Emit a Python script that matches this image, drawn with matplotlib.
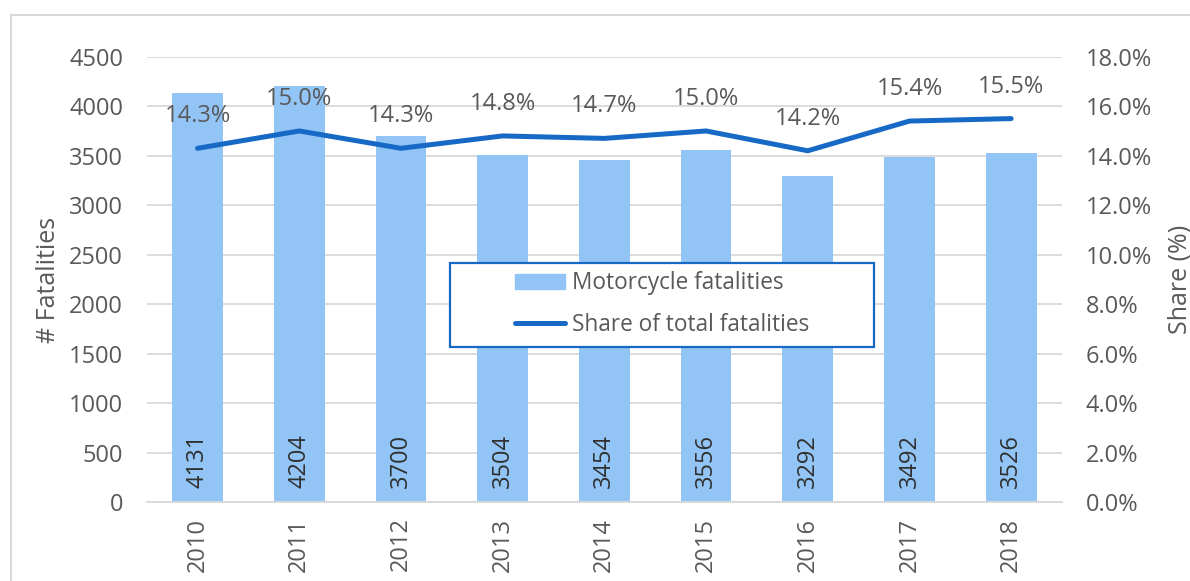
import matplotlib
matplotlib.use("Agg")
import matplotlib.pyplot as plt
from matplotlib.patches import Rectangle
from matplotlib.lines import Line2D
import numpy as np

plt.rcParams['font.family'] = ['Open Sans', 'DejaVu Sans']

years = ['2010', '2011', '2012', '2013', '2014', '2015', '2016', '2017', '2018']
fatalities = [4131, 4204, 3700, 3504, 3454, 3556, 3292, 3492, 3526]
share = [14.3, 15.0, 14.3, 14.8, 14.7, 15.0, 14.2, 15.4, 15.5]

bar_color = '#92C5F5'
line_color = '#1769C6'
text_color = '#595959'
grid_color = '#D9D9D9'
FS = 17

W, H = 1190, 581
fig = plt.figure(figsize=(W / 100, H / 100), dpi=100)
fig.patch.set_facecolor('white')

# outer chart border (left & top visible)
fig.add_artist(Rectangle((11 / W, -0.1), 1.2, (H - 15) / H + 0.1, transform=fig.transFigure,
                         fill=False, edgecolor='#D9D9D9', linewidth=1.5))

ax = fig.add_axes([146.7 / W, (H - 502.3) / H, (1062 - 146.7) / W, (502.3 - 56.7) / H])
ax2 = ax.twinx()

x = np.arange(len(years))
ax.bar(x, fatalities, width=0.5, color=bar_color, zorder=2)
ax.set_xlim(-0.5, len(years) - 0.5)
ax.set_ylim(0, 4500)
ax.set_yticks(np.arange(0, 4501, 500))
ax.yaxis.grid(True, color=grid_color, linewidth=1.3, zorder=0)
ax.set_axisbelow(True)
for s in ax.spines.values():
    s.set_visible(False)
for s in ax2.spines.values():
    s.set_visible(False)
ax.spines['bottom'].set_visible(True)
ax.spines['bottom'].set_color(grid_color)
ax.spines['bottom'].set_linewidth(1.3)

ax.set_xticks(x)
ax.set_xticklabels(years, rotation=90)
ax.tick_params(axis='both', length=0, labelsize=FS, labelcolor=text_color)
ax.tick_params(axis='y', pad=17)
ax.tick_params(axis='x', pad=11)
ax.set_ylabel('# Fatalities', fontsize=18, color=text_color, labelpad=6)

for xi, v in zip(x, fatalities):
    ax.annotate(str(v), (xi, 0), xytext=(0, 10), textcoords='offset points',
                rotation=90, ha='center', va='bottom', fontsize=FS, color='#303030')

ax2.plot(x, share, color=line_color, linewidth=3.6, solid_capstyle='round',
         solid_joinstyle='round', zorder=3)
ax2.set_ylim(0, 18)
ax2.set_yticks(np.arange(0, 18.1, 2))
ax2.set_yticklabels([f'{v:.1f}%' for v in np.arange(0, 18.1, 2)])
ax2.tick_params(axis='y', length=0, labelsize=FS, labelcolor=text_color, pad=17)
ax2.set_ylabel('Share (%)', fontsize=18, color=text_color, labelpad=11)

for xi, v in zip(x, share):
    ax2.annotate(f'{v:.1f}%', (xi, v), xytext=(0, 23), textcoords='offset points',
                 ha='center', va='center', fontsize=FS, color=text_color)

# legend frame
fig.add_artist(Rectangle((450 / W, (H - 347) / H), (874 - 450) / W, (347 - 263) / H,
                         transform=fig.transFigure, facecolor='white',
                         edgecolor=line_color, linewidth=1.6, zorder=9))
handles = [Rectangle((0, 0), 1, 1, color=bar_color),
           Line2D([0], [0], color=line_color, linewidth=3.6, solid_capstyle='round')]
leg = fig.legend(handles, ['Motorcycle fatalities', 'Share of total fatalities'],
                 loc='center', bbox_to_anchor=((450 + 874) / 2 / W, (H - 304) / H),
                 bbox_transform=fig.transFigure, fontsize=16.3, frameon=False,
                 borderpad=0, handlelength=2.2, handleheight=0.62, handletextpad=0.32,
                 labelspacing=0.78, borderaxespad=0)
for t in leg.get_texts():
    t.set_color(text_color)
leg.set_zorder(10)

fig.savefig('out.png', dpi=100)
